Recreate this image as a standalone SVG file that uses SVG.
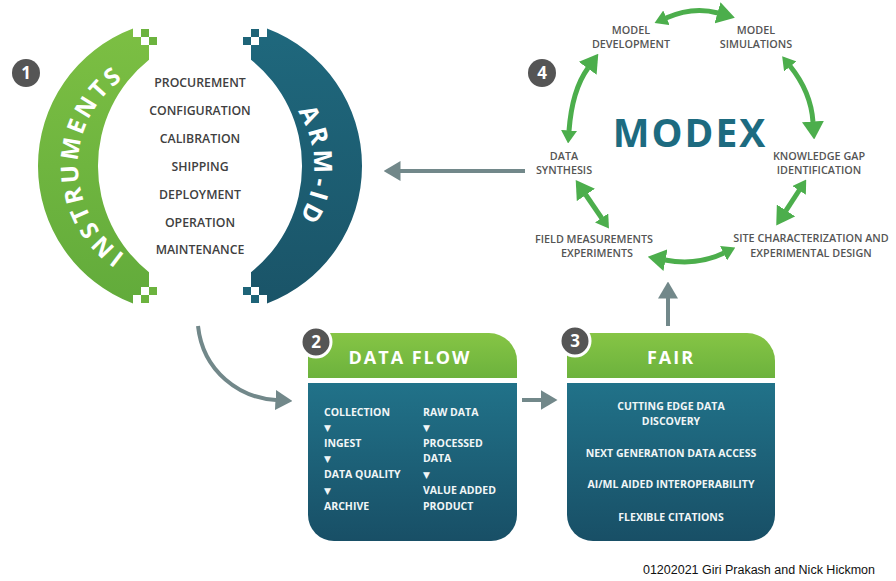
<svg xmlns="http://www.w3.org/2000/svg" width="896" height="581" viewBox="0 0 896 581">
  <defs>
    <linearGradient id="gradGreen" x1="0" y1="0" x2="0" y2="1">
      <stop offset="0" stop-color="#7cbf43"/>
      <stop offset="1" stop-color="#62ab3b"/>
    </linearGradient>
    <linearGradient id="gradTeal" x1="0" y1="0" x2="0" y2="1">
      <stop offset="0" stop-color="#1f687d"/>
      <stop offset="1" stop-color="#1a5468"/>
    </linearGradient>
    <linearGradient id="gradHeader" x1="0" y1="0" x2="0" y2="1">
      <stop offset="0" stop-color="#86c545"/>
      <stop offset="1" stop-color="#6cb23d"/>
    </linearGradient>
    <linearGradient id="gradBody" x1="0" y1="0" x2="0" y2="1">
      <stop offset="0" stop-color="#217289"/>
      <stop offset="1" stop-color="#184f66"/>
    </linearGradient>
    <marker id="grayHead" markerUnits="userSpaceOnUse" viewBox="0 0 17 20" markerWidth="17" markerHeight="20" refX="0.5" refY="10" orient="auto">
      <path d="M0,0 L17,10 L0,20 Z" fill="#72888a"/>
    </marker>
    <marker id="greenBig" markerUnits="userSpaceOnUse" viewBox="0 0 18 22" markerWidth="18" markerHeight="22" refX="0.5" refY="11" orient="auto">
      <path d="M0,0 L18,11 L0,22 Z" fill="#4cae4c"/>
    </marker>
    <marker id="greenSmall" markerUnits="userSpaceOnUse" viewBox="0 0 13 16" markerWidth="13" markerHeight="16" refX="0.5" refY="8" orient="auto-start-reverse">
      <path d="M0,0 L13,8 L0,16 Z" fill="#4cae4c"/>
    </marker>
    <path id="pathInstruments" d="M185,273 A107 107 0 0 1 185,59"/>
    <path id="pathArmId" d="M215,67 A99 99 0 0 1 215,265"/>
  </defs>
  <style>
    .sans { font-family: "Open Sans", "Liberation Sans", sans-serif; }
    .arcLabel { font-family: "Open Sans", "Liberation Sans", sans-serif; font-weight: 700; fill: #ffffff; }
    .task { font-family: "Open Sans", "Liberation Sans", sans-serif; font-weight: 600; font-size: 12.3px; fill: #404040; text-anchor: middle; }
    .cycle { font-family: "Open Sans", "Liberation Sans", sans-serif; font-weight: 600; font-size: 10.8px; fill: #555555; text-anchor: middle; }
    .boxTitle { font-family: "Open Sans", "Liberation Sans", sans-serif; font-weight: 700; font-size: 18px; fill: #ffffff; text-anchor: middle; letter-spacing: 2px; }
    .boxText { font-family: "Open Sans", "Liberation Sans", sans-serif; font-weight: 700; font-size: 10.5px; fill: #f1f6f7; }
    .tri { font-family: "DejaVu Sans", sans-serif; font-size: 9px; fill: #f1f6f7; }
    .badge { fill: #555555; }
    .badgeNum { font-family: "Open Sans", "Liberation Sans", sans-serif; font-weight: 700; font-size: 17px; fill: #ffffff; text-anchor: middle; }
    .grayLink { fill: none; stroke: #72888a; stroke-width: 4; marker-end: url(#grayHead); }
    .greenLink { fill: none; stroke: #4cae4c; stroke-width: 5; marker-start: url(#greenSmall); marker-end: url(#greenBig); }
  </style>

  <rect width="896" height="581" fill="#ffffff"/>

  <!-- Instruments arc (left) -->
  <g id="instruments">
    <path fill="url(#gradGreen)" d="M133,28.5 L133,37 L141,37 L141,45 L149,45 L149,59.8 A136 136 0 0 0 149,272.2 L149,287 L141,287 L141,295 L133,295 L133,303.5 A147 147 0 0 1 133,28.5 Z"/>
    <g fill="#6cb33e">
      <rect x="141" y="29" width="8" height="8"/>
      <rect x="149" y="37" width="8" height="8"/>
      <rect x="141" y="295" width="8" height="8"/>
      <rect x="149" y="287" width="8" height="8"/>
    </g>
    <text class="arcLabel" font-size="24" letter-spacing="3.4"><textPath href="#pathInstruments" startOffset="50%" text-anchor="middle">INSTRUMENTS</textPath></text>
  </g>

  <!-- ARM-ID arc (right) -->
  <g id="arm-id">
    <path fill="url(#gradTeal)" d="M267,28.5 L267,37 L259,37 L259,45 L251,45 L251,59.8 A136 136 0 0 1 251,272.2 L251,287 L259,287 L259,295 L267,295 L267,303.5 A147 147 0 0 0 267,28.5 Z"/>
    <g fill="#1e6478">
      <rect x="251" y="29" width="8" height="8"/>
      <rect x="243" y="37" width="8" height="8"/>
      <rect x="251" y="295" width="8" height="8"/>
      <rect x="243" y="287" width="8" height="8"/>
    </g>
    <text class="arcLabel" font-size="25" letter-spacing="4"><textPath href="#pathArmId" startOffset="50%" text-anchor="middle">ARM-ID</textPath></text>
  </g>

  <!-- Lifecycle tasks between the arcs -->
  <g id="tasks">
    <text class="task" x="200" y="87.4">PROCUREMENT</text>
    <text class="task" x="200" y="115.2">CONFIGURATION</text>
    <text class="task" x="200" y="143.1">CALIBRATION</text>
    <text class="task" x="200" y="170.9">SHIPPING</text>
    <text class="task" x="200" y="198.7">DEPLOYMENT</text>
    <text class="task" x="200" y="226.6">OPERATION</text>
    <text class="task" x="200" y="254.4">MAINTENANCE</text>
  </g>

  <!-- Step badges -->
  <g id="badge-1">
    <circle class="badge" cx="26" cy="73" r="14"/>
    <text class="badgeNum" x="26" y="79">1</text>
  </g>
  <g id="badge-4">
    <circle class="badge" cx="542" cy="73" r="14"/>
    <text class="badgeNum" x="542" y="79">4</text>
  </g>

  <!-- MODEX cycle -->
  <g id="modex">
    <text class="sans" x="690" y="147" font-size="39" font-weight="700" fill="#1d6b80" text-anchor="middle" letter-spacing="2">MODEX</text>
  </g>
  <g id="model-development">
    <text class="cycle" x="631" y="33.7">MODEL</text>
    <text class="cycle" x="631" y="48">DEVELOPMENT</text>
  </g>
  <g id="model-simulations">
    <text class="cycle" x="756" y="33.7">MODEL</text>
    <text class="cycle" x="756" y="48">SIMULATIONS</text>
  </g>
  <g id="knowledge-gap">
    <text class="cycle" x="819" y="160">KNOWLEDGE GAP</text>
    <text class="cycle" x="819" y="174">IDENTIFICATION</text>
  </g>
  <g id="site-characterization">
    <text class="cycle" x="811" y="242.3">SITE CHARACTERIZATION AND</text>
    <text class="cycle" x="811" y="256.7">EXPERIMENTAL DESIGN</text>
  </g>
  <g id="field-measurements">
    <text class="cycle" x="594" y="243.3">FIELD MEASUREMENTS</text>
    <text class="cycle" x="597" y="257.3">EXPERIMENTS</text>
  </g>
  <g id="data-synthesis">
    <text class="cycle" x="564" y="160">DATA</text>
    <text class="cycle" x="564" y="174">SYNTHESIS</text>
  </g>

  <!-- Data Flow box -->
  <g id="data-flow">
    <path fill="url(#gradHeader)" d="M308,378 L308,345 Q308,333 320,333 L489,333 A28 28 0 0 1 517,361 L517,378 Z"/>
    <path fill="url(#gradBody)" d="M308,383 L517,383 L517,515 A26 26 0 0 1 491,541 L334,541 A26 26 0 0 1 308,515 Z"/>
    <text class="boxTitle" x="410" y="364">DATA FLOW</text>
    <text class="boxText" x="324" y="415.5">COLLECTION</text>
    <text class="tri" x="324" y="430.5">▼</text>
    <text class="boxText" x="324" y="446.5">INGEST</text>
    <text class="tri" x="324" y="462">▼</text>
    <text class="boxText" x="324" y="478">DATA QUALITY</text>
    <text class="tri" x="324" y="493.5">▼</text>
    <text class="boxText" x="324" y="510">ARCHIVE</text>
    <text class="boxText" x="423" y="415.5">RAW DATA</text>
    <text class="tri" x="423" y="430.5">▼</text>
    <text class="boxText" x="423" y="446.5">PROCESSED</text>
    <text class="boxText" x="423" y="462">DATA</text>
    <text class="tri" x="423" y="477.5">▼</text>
    <text class="boxText" x="423" y="494">VALUE ADDED</text>
    <text class="boxText" x="423" y="510">PRODUCT</text>
    <circle class="badge" cx="316" cy="342" r="15" stroke="#ffffff" stroke-width="3"/>
    <text class="badgeNum" x="316" y="348">2</text>
  </g>

  <!-- FAIR box -->
  <g id="fair">
    <path fill="url(#gradHeader)" d="M567,378 L567,345 Q567,333 579,333 L747,333 A28 28 0 0 1 775,361 L775,378 Z"/>
    <path fill="url(#gradBody)" d="M567,383 L775,383 L775,515 A26 26 0 0 1 749,541 L593,541 A26 26 0 0 1 567,515 Z"/>
    <text class="boxTitle" x="671" y="364" letter-spacing="3">FAIR</text>
    <g text-anchor="middle">
      <text class="boxText" x="671" y="409.8">CUTTING EDGE DATA</text>
      <text class="boxText" x="671" y="424.5">DISCOVERY</text>
      <text class="boxText" x="671" y="457">NEXT GENERATION DATA ACCESS</text>
      <text class="boxText" x="671" y="488">AI/ML AIDED INTEROPERABILITY</text>
      <text class="boxText" x="671" y="520.5">FLEXIBLE CITATIONS</text>
    </g>
    <circle class="badge" cx="575" cy="341" r="15" stroke="#ffffff" stroke-width="3"/>
    <text class="badgeNum" x="575" y="347">3</text>
  </g>

  <!-- Connectors -->
  <g id="connectors">
    <path class="grayLink" d="M525,171 L400,171"/>
    <path class="grayLink" d="M198,326 C203,372 240,398 276,400"/>
    <path class="grayLink" d="M522,400 L541,400"/>
    <path class="grayLink" d="M668,326 L668,298"/>
    <path class="greenLink" d="M666,18 Q693,6 718,13"/>
    <path class="greenLink" d="M790,66 Q811,92 813,122"/>
    <path class="greenLink" d="M799.4,190 L785.8,210.9"/>
    <path class="greenLink" d="M724,253 Q697,266 665,260"/>
    <path class="greenLink" d="M601.9,218.3 L585.6,194.5"/>
    <path class="greenLink" d="M569,131 Q572,90 588,68"/>
  </g>

  <text x="875" y="574" font-family="'Liberation Sans', Arial, sans-serif" font-size="12.5" fill="#111111" text-anchor="end">01202021 Giri Prakash and Nick Hickmon</text>
</svg>
